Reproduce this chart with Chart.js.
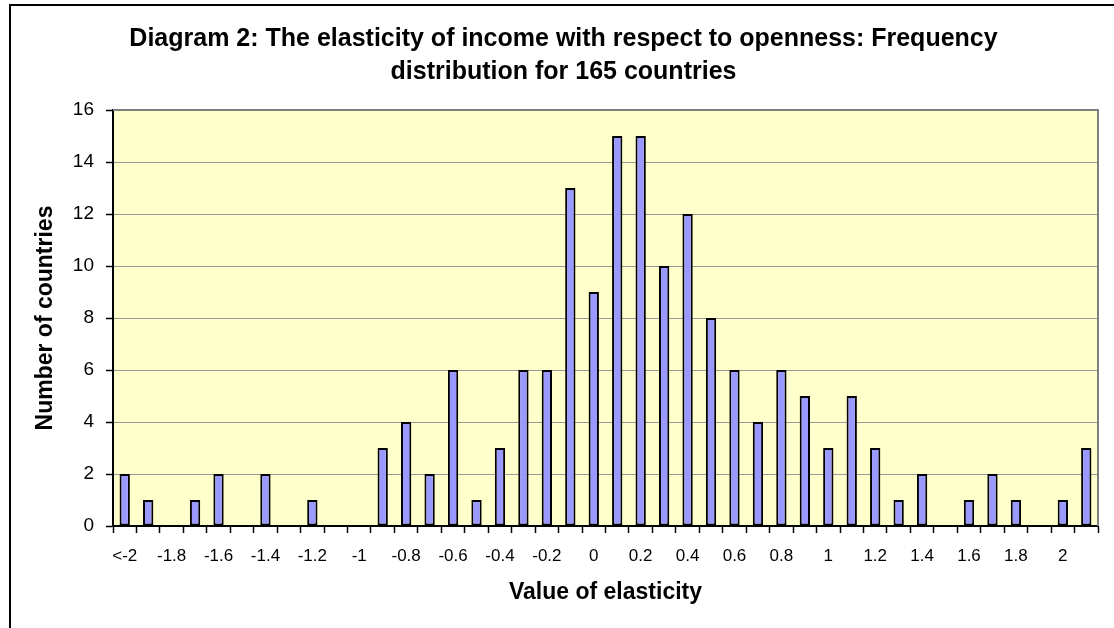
<!DOCTYPE html>
<html>
<head>
<meta charset="utf-8">
<script src="https://cdn.jsdelivr.net/npm/chart.js@4.4.0/dist/chart.umd.min.js"></script>
<style>
  html, body { margin: 0; padding: 0; background: #fff; }
  #wrap { width: 1114px; height: 628px; position: relative; }
</style>
</head>
<body>
<div id="wrap"><canvas id="histo" width="1114" height="628"></canvas></div>
<script>
// elasticity bins (0.1 wide), first bin is everything below -2
const categories = ["<-2", "-1.9", "-1.8", "-1.7", "-1.6", "-1.5", "-1.4", "-1.3", "-1.2", "-1.1",
    "-1", "-0.9", "-0.8", "-0.7", "-0.6", "-0.5", "-0.4", "-0.3", "-0.2", "-0.1",
    "0", "0.1", "0.2", "0.3", "0.4", "0.5", "0.6", "0.7", "0.8", "0.9",
    "1", "1.1", "1.2", "1.3", "1.4", "1.5", "1.6", "1.7", "1.8", "1.9",
    "2", "2.1"];
const counts = [2, 1, 0, 1, 2, 0, 2, 0, 1, 0,
    0, 3, 4, 2, 6, 1, 3, 6, 6, 13,
    9, 15, 15, 10, 12, 8, 6, 4, 6, 5,
    3, 5, 3, 1, 2, 0, 1, 2, 1, 0,
    1, 3];
// only every other bin gets a label on the axis
const tickLabels = categories.map((c, i) => (i % 2 === 0 ? c : ""));

const FONT = "'Liberation Sans', Arial, sans-serif";

// white page, outer frame, yellow plot area and grey plot border
const framePlugin = {
    id: 'frame',
    beforeDraw(chart) {
        const ctx = chart.ctx;
        const a = chart.chartArea;
        ctx.save();
        ctx.fillStyle = '#ffffff';
        ctx.fillRect(0, 0, chart.width, chart.height);
        ctx.strokeStyle = '#000000';
        ctx.lineWidth = 2;
        ctx.beginPath();
        ctx.moveTo(10, chart.height);
        ctx.lineTo(10, 5);
        ctx.lineTo(chart.width, 5);
        ctx.stroke();
        ctx.fillStyle = '#FFFFCC';
        ctx.fillRect(a.left, a.top, a.right - a.left, a.bottom - a.top);
        ctx.restore();
    },
    afterDatasetsDraw(chart) {
        const ctx = chart.ctx;
        const a = chart.chartArea;
        ctx.save();
        ctx.strokeStyle = '#808080';
        ctx.lineWidth = 2;
        ctx.beginPath();
        ctx.moveTo(a.left, a.top);
        ctx.lineTo(a.right, a.top);
        ctx.lineTo(a.right, a.bottom);
        ctx.stroke();
        ctx.restore();
    }
};

new Chart(document.getElementById('histo'), {
    type: 'bar',
    data: {
        labels: categories,
        datasets: [{
            label: 'Number of countries',
            data: counts,
            backgroundColor: '#9999FF',
            borderColor: '#000000',
            borderWidth: 2,
            borderSkipped: false,
            barPercentage: 0.44,
            categoryPercentage: 1.0
        }]
    },
    options: {
        responsive: false,
        animation: false,
        layout: { padding: { left: 29, right: 16, top: 0, bottom: 0 } },
        plugins: {
            legend: { display: false },
            tooltip: { enabled: false },
            title: {
                display: true,
                text: ['Diagram 2: The elasticity of income with respect to openness: Frequency',
                       'distribution for 165 countries'],
                color: '#000',
                font: { family: FONT, size: 25, weight: 'bold', lineHeight: 1.32 },
                padding: { top: 23, bottom: 21 }
            }
        },
        scales: {
            x: {
                offset: true,
                grid: {
                    display: true,
                    drawOnChartArea: false,
                    drawTicks: true,
                    tickLength: 7,
                    tickColor: '#000',
                    tickWidth: 1.5,
                    offset: true
                },
                border: { display: true, color: '#000', width: 2 },
                ticks: {
                    autoSkip: false,
                    maxRotation: 0,
                    minRotation: 0,
                    padding: 13,
                    color: '#000',
                    font: { family: FONT, size: 17 },
                    callback: (v, i) => tickLabels[i]
                },
                title: {
                    display: true,
                    text: 'Value of elasticity',
                    color: '#000',
                    font: { family: FONT, size: 23, weight: 'bold', lineHeight: 1.2 },
                    padding: { top: 0, bottom: 22 }
                },
                afterFit(scale) { scale.height = 102; }
            },
            y: {
                min: 0,
                max: 16,
                grid: {
                    color: '#999999',
                    lineWidth: 1,
                    drawTicks: true,
                    tickLength: 7,
                    tickColor: '#000',
                    tickWidth: 1.5
                },
                border: { display: true, color: '#000', width: 2 },
                ticks: {
                    stepSize: 2,
                    padding: 12,
                    color: '#000',
                    font: { family: FONT, size: 19 }
                },
                title: {
                    display: true,
                    text: 'Number of countries',
                    color: '#000',
                    font: { family: FONT, size: 23, weight: 'bold', lineHeight: 1.2 },
                    padding: { top: 3, bottom: 0 }
                },
                afterFit(scale) { scale.width = 84; }
            }
        }
    },
    plugins: [framePlugin]
});
</script>
</body>
</html>
